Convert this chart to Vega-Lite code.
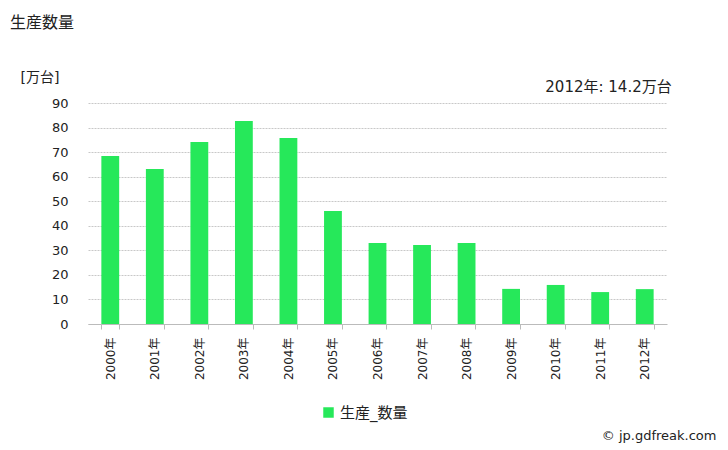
{
  "$schema": "https://vega.github.io/schema/vega-lite/v6.json",
  "width": 579,
  "height": 221,
  "autosize": {"type": "none"},
  "padding": {"left": 88, "top": 103, "right": 61, "bottom": 126},
  "background": "white",
  "config": {
    "font": "DejaVu Sans, Noto Sans CJK JP",
    "view": {"stroke": null},
    "axisX": {
      "titleX": 628,
      "titleY": 111,
      "titleAlign": "right",
      "titleBaseline": "middle",
      "titleAngle": 0,
      "titleFontSize": 13,
      "titleFontWeight": "normal",
      "titleColor": "#222",
      "labelAngle": -90,
      "labelAlign": "right",
      "labelBaseline": "middle",
      "labelFontSize": 12,
      "labelColor": "#222",
      "labelPadding": 8,
      "tickBand": "extent",
      "tickColor": "#bbb",
      "tickSize": 5,
      "domainColor": "#bbb",
      "grid": false
    },
    "axisY": {
      "tickCount": 9,
      "titleAngle": 0,
      "titleX": -68,
      "titleY": -26,
      "titleAlign": "left",
      "titleBaseline": "middle",
      "titleFontSize": 14,
      "titleFontWeight": "normal",
      "titleColor": "#222",
      "labelFontSize": 13,
      "labelColor": "#222",
      "labelPadding": 20,
      "labelOverlap": false,
      "ticks": false,
      "domain": false,
      "gridColor": "#c8c8c8",
      "gridDash": [2, 1]
    }
  },
  "title": {
    "text": "生産数量",
    "anchor": "start",
    "frame": "group",
    "dx": -78,
    "offset": 31,
    "baseline": "middle",
    "fontSize": 16,
    "fontWeight": "normal",
    "color": "#222"
  },
  "data": {
    "values": [
      {"year": "2000年", "value": 68.4, "series": "生産_数量"},
      {"year": "2001年", "value": 63.1, "series": "生産_数量"},
      {"year": "2002年", "value": 74.1, "series": "生産_数量"},
      {"year": "2003年", "value": 82.7, "series": "生産_数量"},
      {"year": "2004年", "value": 75.7, "series": "生産_数量"},
      {"year": "2005年", "value": 46.0, "series": "生産_数量"},
      {"year": "2006年", "value": 33.0, "series": "生産_数量"},
      {"year": "2007年", "value": 32.2, "series": "生産_数量"},
      {"year": "2008年", "value": 33.0, "series": "生産_数量"},
      {"year": "2009年", "value": 14.3, "series": "生産_数量"},
      {"year": "2010年", "value": 15.9, "series": "生産_数量"},
      {"year": "2011年", "value": 13.0, "series": "生産_数量"},
      {"year": "2012年", "value": 14.2, "series": "生産_数量"}
    ]
  },
  "layer": [
    {
      "mark": {"type": "bar"},
      "encoding": {
        "x": {
          "field": "year",
          "type": "nominal",
          "sort": null,
          "title": "© jp.gdfreak.com",
          "scale": {"paddingInner": 0.6, "paddingOuter": 0.3}
        },
        "y": {
          "field": "value",
          "type": "quantitative",
          "title": "[万台]",
          "scale": {"domain": [0, 90]}
        },
        "color": {
          "field": "series",
          "type": "nominal",
          "scale": {"range": ["#26E85A"]},
          "legend": {
            "title": null,
            "orient": "none",
            "legendX": 233,
            "legendY": 302,
            "symbolType": "square",
            "symbolSize": 110,
            "labelFontSize": 15,
            "labelColor": "#222",
            "symbolStrokeWidth": 0
          }
        }
      }
    },
    {
      "data": {"values": [{"year": "2012年", "label": "2012年: 14.2万台"}]},
      "mark": {
        "type": "text",
        "align": "right",
        "baseline": "middle",
        "dx": 27,
        "dy": -16,
        "fontSize": 15,
        "fontWeight": "normal",
        "color": "#222"
      },
      "encoding": {
        "text": {"field": "label", "type": "nominal"},
        "x": {"field": "year", "type": "nominal", "title": "© jp.gdfreak.com"},
        "y": {"datum": 90, "type": "quantitative", "title": "[万台]"}
      }
    }
  ]
}
